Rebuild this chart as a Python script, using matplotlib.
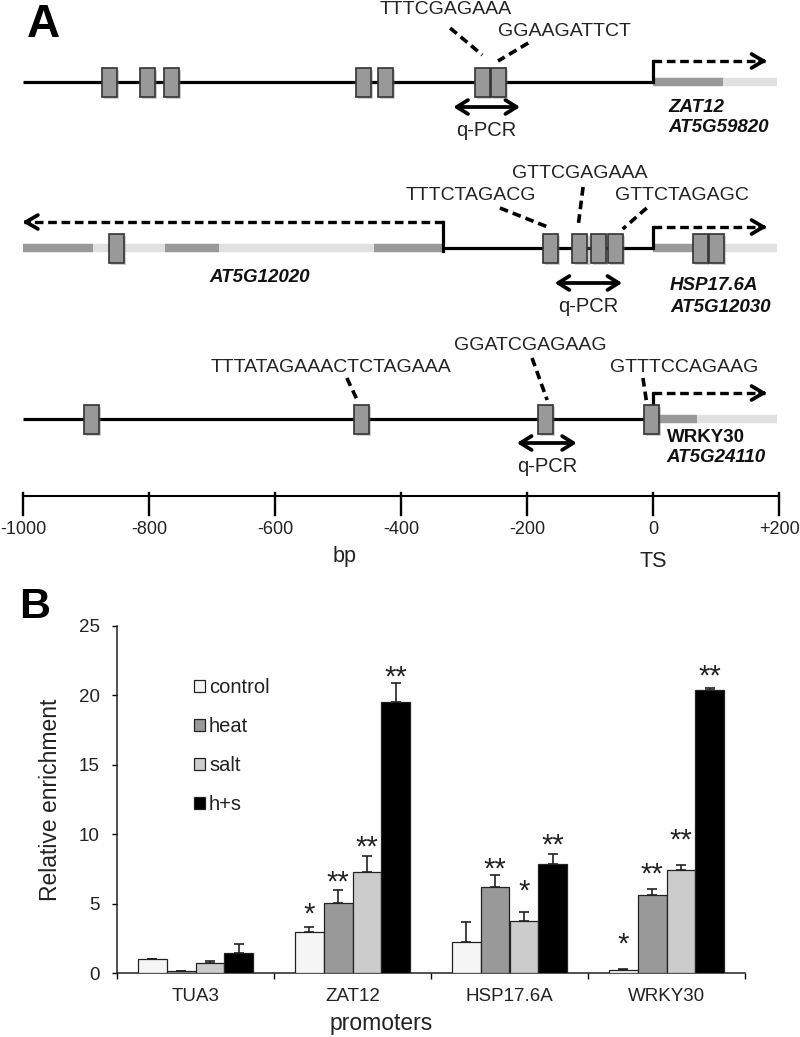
"""
Promoter maps (A) and ChIP-qPCR enrichment (B)
"""
import numpy as np
import matplotlib
matplotlib.use("Agg")
import matplotlib.pyplot as plt
from matplotlib.patches import Rectangle
import matplotlib.patheffects as pe

plt.rcParams['font.family'] = ['Liberation Sans', 'DejaVu Sans']

# ── Panel A data: positions in bp relative to the TS ─────────────────────────
scale_ticks  = [-1000, -800, -600, -400, -200, 0, 200]
scale_labels = ['-1000', '-800', '-600', '-400', '-200', '0', '+200']

zat12_sites    = [-863, -802, -764, -460, -424, -271, -246]
zat12_seqs     = ['TTTCGAGAAA', 'GGAAGATTCT']
zat12_utr_end  = 111
zat12_gene_end = 197

hsp_sites       = [-851, -163, -116, -87, -60]
hsp_gene_sites  = [75, 100]
hsp_seqs        = ['TTTCTAGACG', 'GTTCGAGAAA', 'GTTCTAGAGC']
hsp_utr_end     = 88
hsp_gene_end    = 197
at5g12020_exons = [(-1000, -889), (-775, -689), (-443, -333)]
at5g12020_span  = (-1000, -333)

wrky_sites    = [-891, -463, -170, -2]
wrky_seqs     = ['TTTATAGAAACTCTAGAAA', 'GGATCGAGAAG', 'GTTTCCAGAAG']
wrky_utr_end  = 70
wrky_gene_end = 197

# ── Panel B data ─────────────────────────────────────────────────────────────
promoters  = ['TUA3', 'ZAT12', 'HSP17.6A', 'WRKY30']
treatments = ['control', 'heat', 'salt', 'h+s']
control  = [1.0, 2.93, 2.26, 0.22]
heat     = [0.12, 5.03, 6.22, 5.62]
salt     = [0.7, 7.31, 3.77, 7.42]
hs       = [1.42, 19.56, 7.84, 20.4]
control_err = [0.0, 0.4, 1.4, 0.05]
heat_err    = [0.0, 0.95, 0.85, 0.43]
salt_err    = [0.17, 1.1, 0.65, 0.35]
hs_err      = [0.65, 1.3, 0.72, 0.15]
# significance marks and the height of each mark (data units)
control_sig = ['', '*', '', '*']
heat_sig    = ['', '**', '**', '**']
salt_sig    = ['', '**', '*', '**']
hs_sig      = ['', '**', '**', '**']
control_sig_y = [0, 4.9, 0, 2.74]
heat_sig_y    = [0, 7.2, 8.14, 7.78]
salt_sig_y    = [0, 9.73, 6.58, 10.25]
hs_sig_y      = [0, 21.97, 9.89, 22.07]

W, H = 800, 1037
fig = plt.figure(figsize=(W / 100, H / 100), dpi=100)

# ── Panel A ──────────────────────────────────────────────────────────────────
PX, X0 = 0.63, 653          # px per bp, pixel column of the TS
AH = 580
axA = fig.add_axes([0, 1 - AH / H, 1, AH / H])
axA.set_xlim(-X0 / PX, (W - X0) / PX)
axA.set_ylim(AH, 0)
axA.axis('off')

BW, BH = 15 / PX, 29
DARK, LIGHT = '#999999', '#e0e0e0'
LW = 2.3
TXT = '#222222'
shadow = [pe.SimplePatchShadow(offset=(1.5, -1.5), shadow_rgbFace='#777777', alpha=0.35), pe.Normal()]


def dna(y, x1, x2):
    axA.plot([x1, x2], [y, y], color='k', lw=LW, solid_capstyle='butt', zorder=2)


def bar(y, x1, x2, c):
    axA.plot([x1, x2], [y, y], color=c, lw=6, solid_capstyle='butt', zorder=1)


def site(x, y):
    r = Rectangle((x - BW / 2, y - BH / 2), BW, BH, fc=DARK, ec='#333333', lw=1.2, zorder=4)
    r.set_path_effects(shadow)
    axA.add_patch(r)


def tss(x, y, ya, xe):
    axA.plot([x, x], [y, ya], color='k', lw=LW, zorder=3, solid_capstyle='projecting')
    axA.plot([x, xe], [ya, ya], color='k', lw=2.4, dashes=(2.6, 1.4), zorder=3)
    d = 1 if xe > x else -1
    axA.annotate('', xy=(xe + d * 3, ya), xytext=(xe - d * 8, ya),
                 arrowprops=dict(arrowstyle='->,head_length=0.85,head_width=0.5',
                                 lw=2.7, color='k', shrinkA=0, shrinkB=0), zorder=3)


def leader(x1, y1, x2, y2):
    axA.plot([x1, x2], [y1, y2], color='k', lw=2.6, dashes=(2.4, 1.4), zorder=3)


def qpcr(x1, x2, y):
    axA.annotate('', xy=(x1, y), xytext=(x2, y),
                 arrowprops=dict(arrowstyle='<->,head_length=0.8,head_width=0.5',
                                 lw=2.7, color='k', shrinkA=0, shrinkB=0))
    axA.text((x1 + x2) / 2, y + 23, 'q-PCR', fontsize=14.5, ha='center', va='center', color=TXT)


def seq(s, x, y):
    axA.text(x, y, s, fontsize=14, ha='center', va='center', color=TXT)


def gname(s, x, y, italic=True):
    axA.text(x, y, s, fontsize=13.5, ha='left', va='center', fontweight='bold',
             style='italic' if italic else 'normal', color='#111111')


# row 1: ZAT12
R1 = 82
dna(R1, -1000, 0)
bar(R1, 0, zat12_gene_end, LIGHT)
bar(R1, 0, zat12_utr_end, DARK)
for s in zat12_sites:
    site(s, R1)
tss(0, R1, R1 - 21, 178)
seq(zat12_seqs[0], -329, 10)
seq(zat12_seqs[1], -141, 32)
leader(-322, 28, zat12_sites[5], 55)
leader(-198, 43, zat12_sites[6], 61)
qpcr(-317, -211, 107)
gname('ZAT12', 24, 107)
gname('AT5G59820', 24, 128)

# row 2: AT5G12020 / HSP17.6A
R2 = 248
bar(R2, *at5g12020_span, LIGHT)
for a, b in at5g12020_exons:
    bar(R2, a, b, DARK)
dna(R2, at5g12020_span[1], 0)
bar(R2, 0, hsp_gene_end, LIGHT)
bar(R2, 0, hsp_utr_end, DARK)
for s in hsp_sites + hsp_gene_sites:
    site(s, R2)
tss(0, R2, R2 - 21, 178)
tss(at5g12020_span[1], R2 + 3, R2 - 26, -998)
seq(hsp_seqs[0], -289, 195)
seq(hsp_seqs[1], -117, 173)
seq(hsp_seqs[2], 46, 195)
leader(-243, 208, hsp_sites[1] - 4, 227)
leader(-111, 187, hsp_sites[2] - 3, 227)
leader(-10, 208, hsp_sites[4] + 12, 229)
qpcr(-156, -49, 283)
axA.text(-624, 278, 'AT5G12020', fontsize=13.5, ha='center', va='center',
         fontweight='bold', style='italic', color='#111111')
gname('HSP17.6A', 27, 285)
gname('AT5G12030', 27, 307)

# row 3: WRKY30
R3 = 419
dna(R3, -1000, 0)
bar(R3, 0, wrky_gene_end, LIGHT)
bar(R3, 0, wrky_utr_end, DARK)
for s in wrky_sites:
    site(s, R3)
tss(0, R3 - BH / 2, R3 - 26, 178)
seq(wrky_seqs[0], -511, 367)
seq(wrky_seqs[1], -195, 345)
seq(wrky_seqs[2], 49, 367)
leader(-486, 378, wrky_sites[1] - 5, 402)
leader(-192, 358, wrky_sites[2] + 2, 400)
leader(-16, 378, wrky_sites[3] - 8, 403)
qpcr(-216, -121, 443)
gname('WRKY30', 22, 437, italic=False)
gname('AT5G24110', 22, 458)

# bp scale
SY = 496
axA.plot([scale_ticks[0], scale_ticks[-1]], [SY, SY], color='k', lw=1.5, zorder=2)
for t, lab in zip(scale_ticks, scale_labels):
    axA.plot([t, t], [SY - 3, SY + 19], color='k', lw=1.7)
    axA.text(t, 529, lab, fontsize=13, ha='center', va='center', color=TXT)
axA.text((345 - X0) / PX, 562, 'bp', fontsize=15.5, ha='center', va='baseline', color=TXT)
axA.text(0, 567, 'TS', fontsize=15.5, ha='center', va='baseline', color=TXT)

fig.text(27 / W, 1 - 25 / H, 'A', fontsize=33, fontweight='bold', ha='left', va='center')
fig.text(19 / W, 1 - 607 / H, 'B', fontsize=31, fontweight='bold', ha='left', va='center')

# ── Panel B ──────────────────────────────────────────────────────────────────
axB = fig.add_axes([117 / W, 64 / H, 628 / W, 347 / H])
x = np.arange(len(promoters))
bw = 0.184
series = [control, heat, salt, hs]
errs = [control_err, heat_err, salt_err, hs_err]
sigs = [control_sig, heat_sig, salt_sig, hs_sig]
sig_ys = [control_sig_y, heat_sig_y, salt_sig_y, hs_sig_y]
colors = ['#f5f5f5', '#999999', '#cccccc', '#000000']
SFS = 21

handles = []
for i, (vals, er, sg, sy, c, lab) in enumerate(zip(series, errs, sigs, sig_ys, colors, treatments)):
    xs = x + (i - 1.5) * bw
    axB.errorbar(xs, vals, yerr=[np.zeros(len(vals)), er], fmt='none', ecolor=TXT,
                 elinewidth=1.2, capsize=3.4, capthick=1.2, zorder=2)
    h = axB.bar(xs, vals, bw, color=c, edgecolor=TXT, linewidth=0.9, zorder=3, label=lab)
    handles.append(h)
    for xx, s, yy in zip(xs, sg, sy):
        if s:
            axB.annotate(s, xy=(xx, yy), xytext=(0, -0.6 * SFS), textcoords='offset points',
                         ha='center', va='baseline', fontsize=SFS, color=TXT)

axB.set_xlim(-0.5, 3.5)
axB.set_ylim(0, 25)
axB.set_yticks([0, 5, 10, 15, 20, 25])
axB.set_xticks([-0.5, 0.5, 1.5, 2.5, 3.5])
axB.set_xticklabels([])
axB.set_xticks(x, minor=True)
axB.set_xticklabels(promoters, minor=True)
axB.tick_params(axis='x', which='major', length=4.5, width=1, direction='out')
axB.tick_params(axis='x', which='minor', length=0, pad=11, labelsize=13.5, labelcolor=TXT)
axB.tick_params(axis='y', length=3.5, width=1, direction='out', pad=9, labelsize=13.5,
                labelcolor=TXT)
for sp in ['top', 'right']:
    axB.spines[sp].set_visible(False)
for sp in ['left', 'bottom']:
    axB.spines[sp].set_linewidth(1.1)
    axB.spines[sp].set_color(TXT)

axB.set_ylabel('Relative enrichment', fontsize=16.5, color=TXT)
axB.yaxis.set_label_coords(-0.088, 0.5)
axB.set_xlabel('promoters', fontsize=16.5, color=TXT)
axB.xaxis.set_label_coords(0.42, -0.112)

axB.legend(handles=handles, loc='upper left', bbox_to_anchor=((194 - 117) / 628, (973 - 678) / 347),
           frameon=False, fontsize=14.5, borderpad=0, borderaxespad=0, handlelength=0.55,
           handleheight=0.55, handletextpad=0.2, labelspacing=1.0, labelcolor=TXT)

plt.savefig('out.png', dpi=100)
plt.close()
